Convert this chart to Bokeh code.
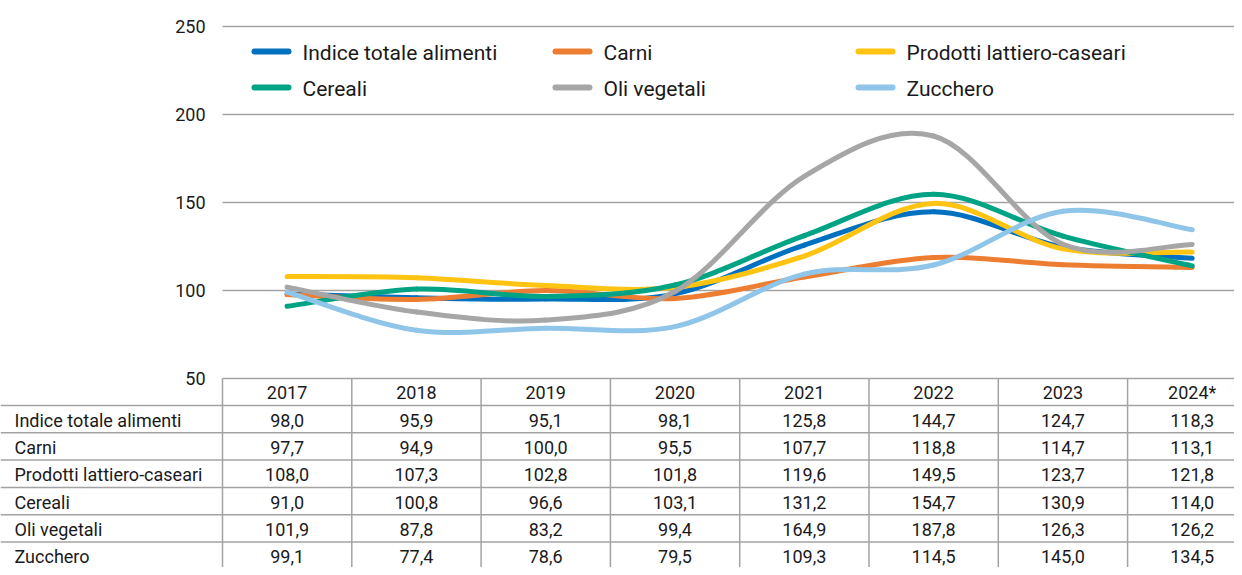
from bokeh.plotting import figure
from bokeh.models import Range1d, ColumnDataSource
from bokeh.core.properties import value
from bokeh.embed import file_html
from bokeh.resources import INLINE

# ---------------- data ----------------
years = ["2017", "2018", "2019", "2020", "2021", "2022", "2023", "2024*"]
indice = [98.0, 95.9, 95.1, 98.1, 125.8, 144.7, 124.7, 118.3]
carni = [97.7, 94.9, 100.0, 95.5, 107.7, 118.8, 114.7, 113.1]
lattiero = [108.0, 107.3, 102.8, 101.8, 119.6, 149.5, 123.7, 121.8]
cereali = [91.0, 100.8, 96.6, 103.1, 131.2, 154.7, 130.9, 114.0]
oli = [101.9, 87.8, 83.2, 99.4, 164.9, 187.8, 126.3, 126.2]
zucchero = [99.1, 77.4, 78.6, 79.5, 109.3, 114.5, 145.0, 134.5]
names = ["Indice totale alimenti", "Carni", "Prodotti lattiero-caseari",
         "Cereali", "Oli vegetali", "Zucchero"]
y_ticks = [50, 100, 150, 200, 250]

series = [indice, carni, lattiero, cereali, oli, zucchero]
colors = ["#0070C0", "#ED7D31", "#FFC312", "#00A383", "#A6A6A6", "#8EC5E9"]

FONT = value("Roboto")
TXT = "#1a1a1a"
GRID = "#a3a3a3"

# ---------------- pixel helpers (layout only, figure pixel coords) ----------------
COLW = 129.3
X0PX = 286.6   # x of first category centre
PX_PER_UNIT = 1.76
Y50PX = 378.0  # y of value 50

W, H = 1234, 567


def X(px):
    return (px - X0PX) / COLW


def Y(py):
    return 50 + (Y50PX - py) / PX_PER_UNIT


p = figure(width=W, height=H, output_backend="svg", toolbar_location=None,
           x_range=Range1d(X(0), X(W)), y_range=Range1d(Y(H), Y(0)),
           x_axis_location=None, y_axis_location=None, min_border=0,
           outline_line_color=None, background_fill_color="white",
           border_fill_color="white")
p.grid.visible = False

# ---------------- gridlines + y tick labels ----------------
grid_left = X(222)
grid_right = X(W + 20)
p.segment(x0=[grid_left] * 4, y0=y_ticks[1:], x1=[grid_right] * 4, y1=y_ticks[1:],
          line_color=GRID, line_width=1.5)
p.text(x=[X(205)] * len(y_ticks), y=y_ticks, text=[str(t) for t in y_ticks],
       text_align="right", text_baseline="middle", text_font=FONT,
       text_font_size=value("18px"), text_color=TXT)

# ---------------- smooth lines ----------------
def bezier_source(vals):
    n = len(vals)
    xs = list(range(n))
    d = dict(x0=[], y0=[], x1=[], y1=[], cx0=[], cy0=[], cx1=[], cy1=[])
    for i in range(n - 1):
        a = i - 1 if i > 0 else i
        b = i + 2 if i + 2 < n else i + 1
        d["x0"].append(xs[i]); d["y0"].append(vals[i])
        d["x1"].append(xs[i + 1]); d["y1"].append(vals[i + 1])
        d["cx0"].append(xs[i] + (xs[i + 1] - xs[a]) / 6)
        d["cy0"].append(vals[i] + (vals[i + 1] - vals[a]) / 6)
        d["cx1"].append(xs[i + 1] - (xs[b] - xs[i]) / 6)
        d["cy1"].append(vals[i + 1] - (vals[b] - vals[i]) / 6)
    return ColumnDataSource(d)


for vals, col in zip(series, colors):
    p.bezier(x0="x0", y0="y0", x1="x1", y1="y1", cx0="cx0", cy0="cy0",
             cx1="cx1", cy1="cy1", source=bezier_source(vals),
             line_color=col, line_width=5, line_cap="round")

# ---------------- legend ----------------
leg_cols = [254, 555, 858]
leg_rows = [51, 87]
for k, (name, col) in enumerate(zip(names, colors)):
    cx = leg_cols[k % 3]
    ry = leg_rows[k // 3]
    p.segment(x0=[X(cx)], y0=[Y(ry)], x1=[X(cx + 34)], y1=[Y(ry)],
              line_color=col, line_width=6, line_cap="round")
    p.text(x=[X(cx + 48)], y=[Y(ry + 1)], text=[name], text_baseline="middle",
           text_font=FONT, text_font_size=value("21px"), text_color=TXT)

# ---------------- data table ----------------
row_h = 27.3
header_bottom = 405.0
row_tops = [header_bottom + row_h * r for r in range(len(names))]
ncol = len(years)

# vertical lines
vx = [X(222 + COLW * k) for k in range(ncol)]
p.segment(x0=vx, y0=[50] * ncol, x1=vx, y1=[Y(H + 5)] * ncol,
          line_color=GRID, line_width=1.5)
# horizontal lines
hy = [Y(t) for t in row_tops]
p.segment(x0=[X(0)] * len(hy), y0=hy, x1=[grid_right] * len(hy), y1=hy,
          line_color=GRID, line_width=1.5)
p.segment(x0=[grid_left], y0=[50], x1=[grid_right], y1=[50],
          line_color=GRID, line_width=1.5)

# header
p.text(x=list(range(ncol)), y=[Y(392)] * ncol, text=years, text_align="center",
       text_baseline="middle", text_font=FONT, text_font_size=value("18px"),
       text_color=TXT)

for r, (name, vals) in enumerate(zip(names, series)):
    cy = Y(row_tops[r] + row_h / 2 + 1)
    p.text(x=[X(14)], y=[cy], text=[name], text_baseline="middle",
           text_font=FONT, text_font_size=value("18px"), text_color=TXT)
    p.text(x=list(range(ncol)), y=[cy] * ncol,
           text=[f"{v:.1f}".replace(".", ",") for v in vals],
           text_align="center", text_baseline="middle", text_font=FONT,
           text_font_size=value("18px"), text_color=TXT)

open("out.html", "w").write(file_html(p, INLINE))
